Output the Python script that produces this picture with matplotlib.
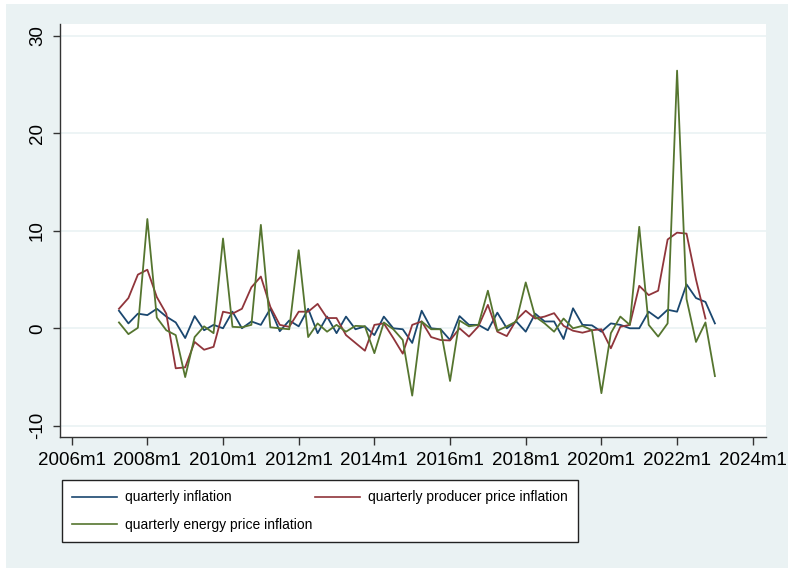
"""
Quarterly inflation, producer price inflation and energy price inflation
Stata s2color look, 2007q2 - 2023q1
"""

import matplotlib.pyplot as plt
import matplotlib.patches as patches
import numpy as np
import pandas as pd

plt.rcParams['font.family'] = ['Liberation Sans', 'DejaVu Sans']

quarters = pd.period_range('2007Q2', '2023Q1', freq='Q')

inflation = [1.8, 0.5, 1.5, 1.35, 2.0, 1.2, 0.6, -1.0, 1.25, -0.2, 0.35,
             0.0, 1.7, 0.0, 0.7, 0.35, 2.0, -0.3, 0.8, 0.2, 2.0, -0.5, 1.2,
             -0.5, 1.2, -0.1, 0.2, -0.7, 1.2, 0.0, -0.1, -1.5, 1.8, 0.0, -0.1,
             -1.2, 1.25, 0.35, 0.35, -0.2, 1.6, 0.0, 0.7, -0.35, 1.5, 0.7, 0.7,
             -1.1, 2.05, 0.35, 0.3, -0.35, 0.5, 0.35, 0.0, 0.0, 1.7, 1.0, 1.9,
             1.7, 4.5, 3.1, 2.7, 0.5]

producer = [2.0, 3.1, 5.5, 6.0, 3.2, 1.5, -4.1, -4.0, -1.4, -2.2, -1.9,
            1.7, 1.5, 2.0, 4.2, 5.3, 2.2, 0.35, 0.15, 1.7, 1.7, 2.5, 1.05,
            1.05, -0.7, -1.5, -2.3, 0.35, 0.5, -1.0, -2.6, 0.35, 0.7, -0.9, -1.2,
            -1.25, 0.0, -0.85, 0.2, 2.4, -0.35, -0.8, 0.85, 1.8, 1.0, 1.2, 1.55,
            0.25, -0.25, -0.45, -0.2, -0.1, -2.05, 0.15, 0.35, 4.35, 3.4, 3.85, 9.1,
            9.8, 9.7, 5.0, 1.0, np.nan]

energy = [0.6, -0.6, 0.05, 11.2, 1.1, -0.2, -0.7, -5.0, -0.9, 0.2, -0.5,
          9.2, 0.15, 0.1, 0.35, 10.6, 0.1, 0.0, -0.1, 8.0, -0.9, 0.5, -0.35,
          0.35, -0.35, 0.25, 0.2, -2.55, 0.6, -0.1, -1.2, -6.9, 0.7, -0.1, -0.1,
          -5.4, 0.8, 0.2, 0.35, 3.85, -0.25, 0.2, 0.7, 4.7, 1.2, 0.5, -0.35,
          1.0, 0.0, 0.25, -0.2, -6.65, -0.5, 1.2, 0.35, 10.4, 0.35, -0.85, 0.5,
          26.4, 3.0, -1.4, 0.6, -4.9]

labels = ['quarterly inflation', 'quarterly producer price inflation',
          'quarterly energy price inflation']
year_ticks = list(range(2006, 2025, 2))
y_ticks = [-10, 0, 10, 20, 30]

# stata s2color palette
navy = '#1A476F'
maroon = '#90353B'
green = '#55752F'
bg = '#EAF2F3'

x = quarters.year + (quarters.quarter - 1) / 4.0

fig = plt.figure(figsize=(7.88, 5.68), dpi=100, facecolor='white')
fig.patches.append(patches.Rectangle((6/788, 0), 1, 1 - 4/568, transform=fig.transFigure,
                                     facecolor=bg, edgecolor='none', zorder=-10))

ax = fig.add_axes([60/788, 1 - 437/568, 706/788, 413/568])
ax.set_facecolor('white')

l1, = ax.plot(x, inflation, color=navy, lw=1.3)
l2, = ax.plot(x, producer, color=maroon, lw=1.3)
l3, = ax.plot(x, energy, color=green, lw=1.3)

ax.set_xlim(2006 - 3.7/12, 2006 + 220.2/12)
ax.set_ylim(-11.14, 31.18)

ax.set_xticks(year_ticks)
ax.set_xticklabels(['%dm1' % y for y in year_ticks])
ax.set_yticks(y_ticks)
ax.set_yticklabels([str(v) for v in y_ticks], rotation=90, va='center')

ax.tick_params(axis='x', length=6, width=1, color='#333333', pad=5, labelsize=13.5)
ax.tick_params(axis='y', length=5, width=1, color='#333333', pad=5, labelsize=13.5)

ax.grid(axis='y', color=bg, lw=1.2)
ax.set_axisbelow(True)

for s in ['top', 'right']:
    ax.spines[s].set_visible(False)
for s in ['left', 'bottom']:
    ax.spines[s].set_color('#333333')
    ax.spines[s].set_linewidth(1)

leg = fig.legend([l1, l3, l2], [labels[0], labels[2], labels[1]],
                 loc='upper left', bbox_to_anchor=(62/788, 1 - 480/568),
                 ncol=2, frameon=True, fancybox=False, edgecolor='#222222',
                 facecolor='white', framealpha=1, fontsize=10,
                 handlelength=3.2, handletextpad=0.58, columnspacing=0.2,
                 borderpad=0.75, labelspacing=0.95, borderaxespad=0)
leg.get_frame().set_linewidth(1)
for h in leg.get_lines():
    h.set_linewidth(1.2)

fig.savefig('out.png', dpi=100, facecolor=fig.get_facecolor())
